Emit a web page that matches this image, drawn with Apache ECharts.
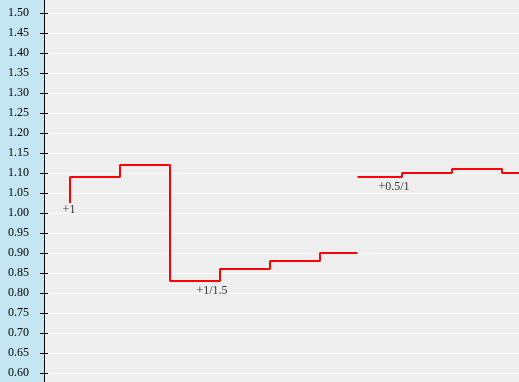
<!DOCTYPE html>
<html><head><meta charset="utf-8">
<script src="https://cdn.jsdelivr.net/npm/echarts@6/dist/echarts.min.js"></script>
<style>html,body{margin:0;padding:0;background:#eeeeee}#c{width:519px;height:382px}</style>
</head><body><div id="c"></div>
<script>
// y axis ticks
const yMin = 0.60, yMax = 1.50, yStep = 0.05;
// x axis (time units)
const xMin = -5.2, xMax = 89.8;
// first odds run
const seg1X = [0, 10, 20, 30, 40, 50, 57.5];
const seg1Y = [1.025, 1.09, 1.12, 0.83, 0.86, 0.88, 0.90];
// second odds run
const seg2X = [57.5, 66.4, 76.4, 86.4, 89.8];
const seg2Y = [1.09, 1.09, 1.10, 1.11, 1.10];
// handicap annotations: text, run, point index
const handicapText = ['+1', '+1/1.5', '+0.5/1'];
const handicapRun = [1, 1, 2];
const handicapIdx = [0, 3, 1];

const font = 'Liberation Serif, Times New Roman, serif';
const chart = echarts.init(document.getElementById('c'), null, {renderer: 'canvas'});
const runs = {1: [seg1X, seg1Y], 2: [seg2X, seg2Y]};
const annData = handicapText.map((t, i) => {
  const r = runs[handicapRun[i]];
  const k = handicapIdx[i];
  return {value: [r[0][k], r[1][k]], label: {formatter: t, offset: i === 0 ? [-1, 0] : [-8, 3]}};
});
const gridL = 44;
chart.setOption({
  animation: false,
  backgroundColor: '#eeeeee',
  grid: {left: gridL, right: 0, top: 13, bottom: 9, containLabel: false},
  graphic: [
    {type: 'rect', z: -10, silent: true, shape: {x: 0, y: 0, width: gridL, height: 382}, style: {fill: '#c3e6f2'}},
    {type: 'line', z: 10, silent: true, shape: {x1: gridL + 0.5, y1: 0, x2: gridL + 0.5, y2: 382}, style: {stroke: '#000', lineWidth: 1}}
  ],
  xAxis: {type: 'value', min: xMin, max: xMax, show: false, axisLine: {onZero: false}},
  yAxis: {type: 'value', min: yMin, max: yMax, interval: yStep, position: 'left', offset: -4,
     axisLine: {show: false, onZero: false},
     axisTick: {show: true, length: 8, lineStyle: {color: '#000'}},
     axisLabel: {margin: 19, color: '#000', fontFamily: font, fontSize: 12,
                 formatter: v => v.toFixed(2)},
     splitLine: {show: true, lineStyle: {color: '#ffffff', width: 1}}},
  series: [
    {type: 'line', step: 'start', data: seg1X.map((x, i) => [x, seg1Y[i]]),
     showSymbol: false, lineStyle: {color: '#ff0000', width: 2}, itemStyle: {color: '#ff0000'}},
    {type: 'line', step: 'start', data: seg2X.map((x, i) => [x, seg2Y[i]]),
     showSymbol: false, lineStyle: {color: '#ff0000', width: 2}, itemStyle: {color: '#ff0000'}},
    {type: 'scatter', symbolSize: 0, data: annData, silent: true,
     label: {show: true, position: 'bottom', distance: 1, color: '#000', fontFamily: font, fontSize: 12}}
  ]
});
</script></body></html>
